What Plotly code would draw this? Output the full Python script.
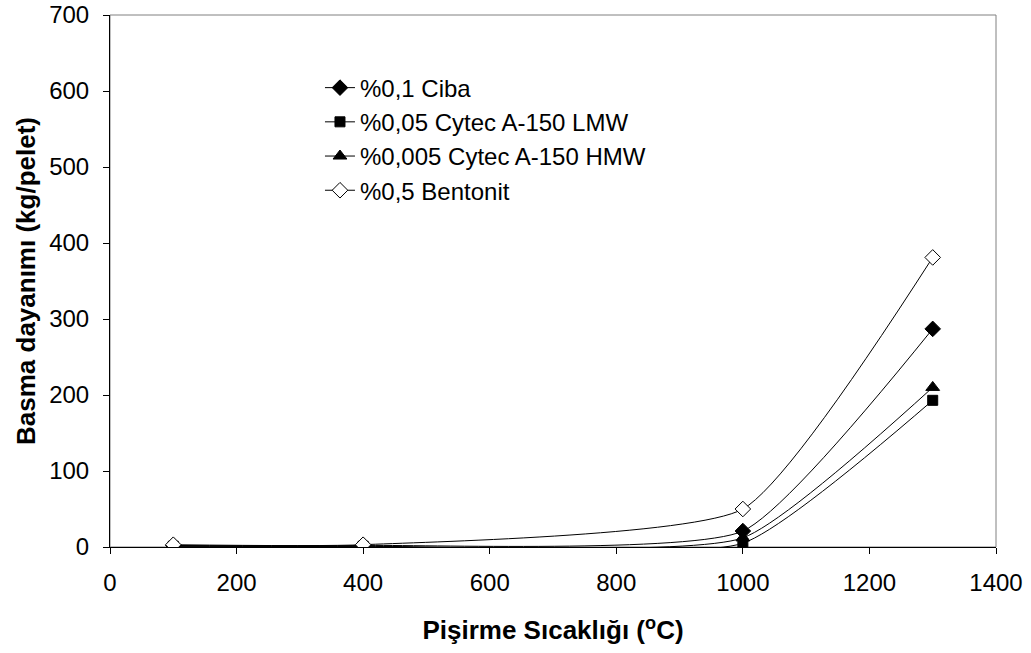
import plotly.graph_objects as go

# Firing temperature (°C)
temperature = [100, 400, 1000, 1300]

# Compressive strength (kg/pelet) per binder
ciba_01 = [2, 2, 21, 287]
cytec_lmw_005 = [1, 1, 5, 193]
cytec_hmw_0005 = [1, 1, 12, 210]
bentonit_05 = [3, 3, 50, 381]

series_names = ["%0,1 Ciba", "%0,05 Cytec A-150 LMW", "%0,005 Cytec A-150 HMW", "%0,5 Bentonit"]

FONT = "Liberation Sans, Arial, sans-serif"

fig = go.Figure()

styles = [
    (ciba_01, dict(symbol="diamond", size=12, color="black", line=dict(color="black", width=1))),
    (cytec_lmw_005, dict(symbol="square", size=10, color="black", line=dict(color="black", width=1))),
    (cytec_hmw_0005, dict(symbol="triangle-up", size=12, color="black", line=dict(color="black", width=1))),
    (bentonit_05, dict(symbol="diamond", size=12, color="white", line=dict(color="black", width=1))),
]

for name, (vals, marker) in zip(series_names, styles):
    fig.add_trace(go.Scatter(
        x=temperature, y=vals, name=name, mode="lines+markers",
        line=dict(color="black", width=1, shape="spline", smoothing=0.5),
        marker=marker,
    ))

# light frame on the top and right of the plot area
fig.add_shape(type="rect", xref="paper", yref="paper", x0=0, x1=1, y0=0, y1=1,
              line=dict(color="#808080", width=1), layer="below")

fig.update_layout(
    width=1031, height=653,
    margin=dict(l=110, r=35, t=15, b=106),
    paper_bgcolor="white", plot_bgcolor="white",
    font=dict(family=FONT, size=24, color="black"),
    showlegend=True,
    legend=dict(x=0.237, y=0.905, xanchor="left", yanchor="top",
                bgcolor="rgba(0,0,0,0)", font=dict(size=24, family=FONT),
                tracegroupgap=0, itemwidth=30),
)

fig.update_xaxes(
    range=[0, 1400], dtick=200, tick0=0,
    showgrid=False, zeroline=False,
    showline=True, linecolor="black", linewidth=1,
    ticks="outside", ticklen=6, tickcolor="black",
    ticklabelstandoff=8,
    tickfont=dict(size=24, family=FONT),
    title=dict(text="<b>Pişirme Sıcaklığı (<sup>o</sup>C)</b>", font=dict(size=26, family=FONT), standoff=26),
    automargin=False,
)
fig.update_yaxes(
    range=[0, 700], dtick=100, tick0=0,
    showgrid=False, zeroline=False,
    showline=True, linecolor="black", linewidth=1,
    ticks="outside", ticklen=6, tickcolor="black",
    ticklabelstandoff=9,
    tickfont=dict(size=24, family=FONT),
    title=dict(text="<b>Basma dayanımı (kg/pelet)</b>", font=dict(size=26, family=FONT), standoff=6),
    automargin=False,
)

fig.write_html("out.html")
